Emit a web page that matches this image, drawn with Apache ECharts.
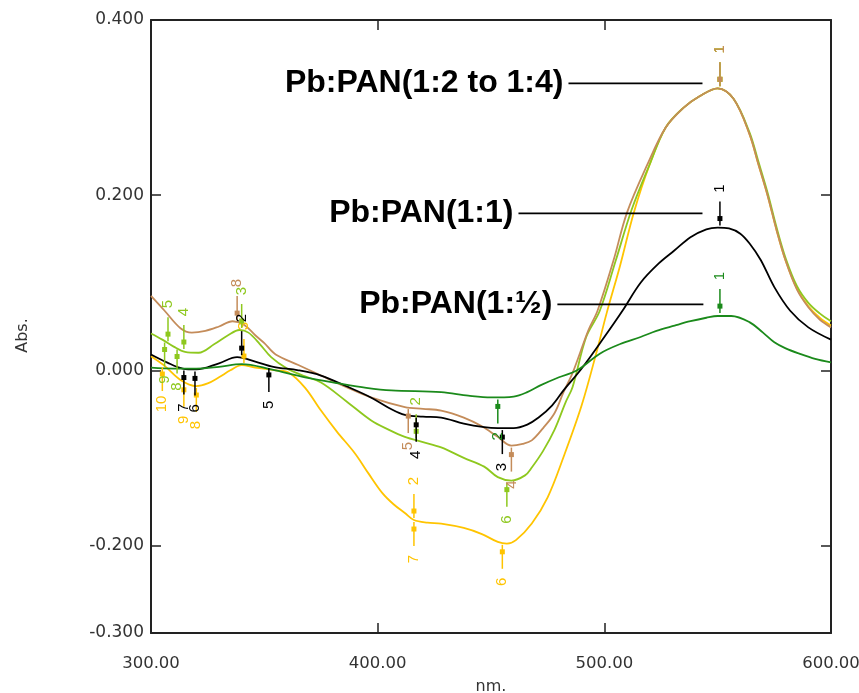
<!DOCTYPE html>
<html><head><meta charset="utf-8">
<script src="https://cdn.jsdelivr.net/npm/echarts@6/dist/echarts.min.js"></script>
<style>html,body{margin:0;padding:0;background:#fff}#c{width:859px;height:693px}</style>
</head><body><div id="c"></div>
<script>
// ---- data ----
const xTicks = [300, 400, 500, 600];
const yLabelTicks = [-0.3, -0.2, 0, 0.2, 0.4];
const yInnerTicks = [-0.2, 0, 0.2];

const seriesNames = ['Pb:PAN(1:4)', 'Pb:PAN(1:3)', 'Pb:PAN(1:2)', 'Pb:PAN(1:1)', 'Pb:PAN(1:½)'];

const yellowCurve = [[300,0.016],[306,0.005],[313,-0.011],[320,-0.018],[325,-0.015],[330,-0.008],[335,0.000],[340,0.006],[346,0.003],[355,0.000],[361,-0.003],[368,-0.020],[375,-0.046],[382,-0.070],[390,-0.095],[396,-0.118],[402,-0.140],[407,-0.153],[412,-0.163],[416,-0.171],[422,-0.174],[428,-0.175],[438,-0.180],[446,-0.187],[453,-0.196],[457,-0.198],[461,-0.194],[468,-0.175],[475,-0.145],[482,-0.099],[490,-0.040],[497,0.025],[501,0.065],[507,0.120],[513,0.180],[520,0.235],[527,0.277],[535,0.300],[542,0.313],[550,0.322],[557,0.310],[564,0.270],[568,0.235],[572,0.200],[576,0.160],[580,0.125],[585,0.093],[590,0.073],[595,0.060],[600,0.051]];

const lightGreenCurve = [[300,0.042],[305,0.035],[310,0.027],[315,0.021],[321,0.020],[328,0.030],[334,0.040],[339,0.046],[343,0.043],[348,0.030],[353,0.015],[360,0.002],[367,-0.006],[375,-0.014],[386,-0.035],[397,-0.057],[405,-0.068],[412,-0.076],[420,-0.082],[428,-0.088],[438,-0.100],[447,-0.110],[453,-0.122],[459,-0.126],[465,-0.120],[468,-0.111],[473,-0.092],[478,-0.068],[483,-0.036],[486,-0.019],[492,0.038],[498,0.068],[505,0.125],[512,0.183],[520,0.235],[527,0.277],[535,0.300],[542,0.313],[550,0.322],[557,0.310],[564,0.272],[568,0.238],[572,0.203],[576,0.163],[580,0.128],[585,0.096],[590,0.077],[595,0.065],[600,0.056]];

const brownCurve = [[300,0.085],[306,0.068],[313,0.048],[318,0.043],[324,0.045],[330,0.050],[336,0.056],[341,0.052],[346,0.040],[350,0.031],[355,0.018],[365,0.006],[375,-0.006],[386,-0.019],[397,-0.031],[412,-0.042],[420,-0.044],[428,-0.046],[438,-0.054],[446,-0.064],[453,-0.076],[459,-0.086],[464,-0.084],[468,-0.080],[473,-0.066],[478,-0.049],[482,-0.025],[486,-0.003],[493,0.046],[497,0.068],[504,0.125],[510,0.180],[519,0.235],[527,0.277],[535,0.300],[542,0.313],[550,0.322],[557,0.310],[564,0.270],[568,0.235],[572,0.200],[576,0.160],[580,0.125],[585,0.092],[590,0.072],[595,0.058],[600,0.049]];

const blackCurve = [[300,0.018],[307,0.009],[314,0.002],[320,0.001],[330,0.008],[338,0.015],[346,0.010],[354,0.004],[365,0.000],[375,-0.006],[386,-0.018],[397,-0.031],[405,-0.043],[412,-0.051],[420,-0.053],[428,-0.054],[438,-0.061],[447,-0.065],[453,-0.066],[460,-0.066],[466,-0.062],[471,-0.054],[477,-0.040],[482,-0.023],[490,0.002],[500,0.038],[508,0.068],[516,0.100],[524,0.122],[531,0.137],[538,0.152],[545,0.161],[550,0.163],[555,0.162],[560,0.156],[564,0.145],[569,0.126],[575,0.095],[582,0.068],[590,0.049],[600,0.035]];

const darkGreenCurve = [[300,0.003],[310,0.002],[320,0.002],[330,0.004],[340,0.007],[353,0.001],[368,-0.008],[383,-0.015],[395,-0.020],[406,-0.023],[428,-0.025],[440,-0.029],[450,-0.031],[460,-0.030],[466,-0.025],[472,-0.017],[480,-0.008],[488,0.000],[498,0.019],[507,0.030],[516,0.038],[523,0.045],[531,0.051],[538,0.056],[545,0.060],[550,0.062],[556,0.062],[564,0.055],[570,0.043],[575,0.032],[580,0.025],[586,0.019],[593,0.013],[600,0.009]];

// peak / valley picks: [nm, abs, label, +1 peak / -1 valley]
const yellowPicks = [[551,0.322,'1',1],[416,-0.171,'2',1],[341,0.006,'3',1],[455,-0.197,'6',-1],[416,-0.171,'7',-1],[320,-0.018,'8',-1],[314.5,-0.012,'9',-1],[305,0.006,'10',-1]];
const lightGreenPicks = [[551,0.322,'1',1],[417,-0.080,'2',1],[340,0.046,'3',1],[314.5,0.022,'4',1],[307.5,0.031,'5',1],[457,-0.126,'6',-1],[311.5,0.026,'8',-1],[306,0.034,'9',-1]];
const brownPicks = [[551,0.322,'1',1],[338,0.055,'8',1],[413.5,-0.042,'5',-1],[459,-0.086,'4',-1]];
const blackPicks = [[551,0.163,'1',1],[340,0.015,'2',1],[455,-0.066,'3',-1],[417,-0.052,'4',-1],[352,0.005,'5',-1],[319.4,0.001,'6',-1],[314.5,0.002,'7',-1]];
const darkGreenPicks = [[551,0.063,'1',1],[453,-0.031,'2',-1]];

// annotations
const annotTexts = ['Pb:PAN(1:2 to 1:4)', 'Pb:PAN(1:1)', 'Pb:PAN(1:½)'];
const annotAnchors = [[543.3, 0.3276], [543.3, 0.1792], [543.7, 0.0753]];
const annotLineLen = [134, 184, 146];

// ---- styles ----
const colors = ['#ffc400', '#8ec81e', '#c48c5a', '#000000', '#1b8a1b'];
const curves = [yellowCurve, lightGreenCurve, brownCurve, blackCurve, darkGreenCurve];
const picks = [yellowPicks, lightGreenPicks, brownPicks, blackPicks, darkGreenPicks];
const axisColor = '#222';
const labelFont = 'DejaVu Sans';

const chart = echarts.init(document.getElementById('c'), null, {renderer: 'canvas'});

const lineSeries = curves.map((c, i) => ({
  name: seriesNames[i], type: 'line', data: c, showSymbol: false, symbol: 'none',
  smooth: 0.35, lineStyle: {color: colors[i], width: 1.8}, itemStyle: {color: colors[i]},
  z: 2 + i, animation: false
}));

const pickSeries = picks.map((p, i) => ({
  type: 'custom', coordinateSystem: 'cartesian2d', clip: false, z: 10,
  data: p.map(d => [d[0], d[1]]),
  renderItem: function (params, api) {
    const rec = p[params.dataIndex];
    const pt = api.coord([api.value(0), api.value(1)]);
    const s = rec[3] > 0 ? -1 : 1;
    const col = colors[i];
    return {type: 'group', children: [
      {type: 'line', shape: {x1: pt[0], y1: pt[1] + s * 2, x2: pt[0], y2: pt[1] + s * 26}, style: {stroke: col, lineWidth: 1.5}},
      {type: 'rect', shape: {x: pt[0] - 2.5, y: pt[1] + s * 9 - 2.5, width: 5, height: 5}, style: {fill: col}},
      {type: 'text', x: pt[0], y: pt[1] + s * 39, rotation: Math.PI / 2,
       style: {text: rec[2], fill: col, fontSize: 15, fontFamily: 'Liberation Sans', align: 'center', verticalAlign: 'middle'}}
    ]};
  }
}));

const annotSeries = {
  type: 'custom', coordinateSystem: 'cartesian2d', clip: false, z: 20,
  data: annotAnchors,
  renderItem: function (params, api) {
    const pt = api.coord([api.value(0), api.value(1)]);
    const len = annotLineLen[params.dataIndex];
    return {type: 'group', children: [
      {type: 'line', shape: {x1: pt[0] - len, y1: pt[1], x2: pt[0], y2: pt[1]}, style: {stroke: '#000', lineWidth: 1.6}},
      {type: 'text', x: pt[0] - len - 5, y: pt[1],
       style: {text: annotTexts[params.dataIndex], fill: '#000', fontSize: 32, fontWeight: 'bold', fontFamily: 'Liberation Sans', align: 'right', verticalAlign: 'middle'}}
    ]};
  }
};

const baseAxisLine = {show: true, onZero: false, lineStyle: {color: axisColor, width: 2}};

chart.setOption({
  animation: false,
  backgroundColor: '#fff',
  grid: {left: 151, right: 28, top: 20, bottom: 60, containLabel: false, outerBoundsMode: 'none'},
  xAxis: [
    {type: 'value', position: 'bottom', min: 300, max: 600, interval: 100,
     axisLine: baseAxisLine,
     axisTick: {show: true, inside: true, length: 10, customValues: [400, 500], lineStyle: {color: axisColor, width: 1.5}},
     axisLabel: {customValues: xTicks, formatter: v => v.toFixed(2), fontFamily: labelFont, fontSize: 16.5, color: '#333', margin: 22},
     splitLine: {show: false},
     name: 'nm.', nameLocation: 'middle', nameGap: 46,
     nameTextStyle: {fontFamily: labelFont, fontSize: 16, color: '#333'}},
    {type: 'value', position: 'top', min: 300, max: 600, interval: 100,
     axisLine: baseAxisLine,
     axisTick: {show: true, inside: true, length: 10, customValues: [400, 500], lineStyle: {color: axisColor, width: 1.5}},
     axisLabel: {show: false}, splitLine: {show: false}}
  ],
  yAxis: [
    {type: 'value', position: 'left', min: -0.3, max: 0.4, interval: 0.1,
     axisLine: baseAxisLine,
     axisTick: {show: true, inside: true, length: 10, customValues: yInnerTicks, lineStyle: {color: axisColor, width: 1.5}},
     axisLabel: {customValues: yLabelTicks, formatter: v => v.toFixed(3), fontFamily: labelFont, fontSize: 17, color: '#333', margin: 7},
     splitLine: {show: false},
     name: 'Abs.', nameLocation: 'middle', nameRotate: 90, nameGap: 120,
     nameTextStyle: {fontFamily: labelFont, fontSize: 16, color: '#333', padding: [0, 18, 0, 0]}},
    {type: 'value', position: 'right', min: -0.3, max: 0.4, interval: 0.1,
     axisLine: baseAxisLine,
     axisTick: {show: true, inside: true, length: 10, customValues: yInnerTicks, lineStyle: {color: axisColor, width: 1.5}},
     axisLabel: {show: false}, splitLine: {show: false}}
  ],
  series: lineSeries.concat(pickSeries, [annotSeries])
});
</script>
</body></html>
